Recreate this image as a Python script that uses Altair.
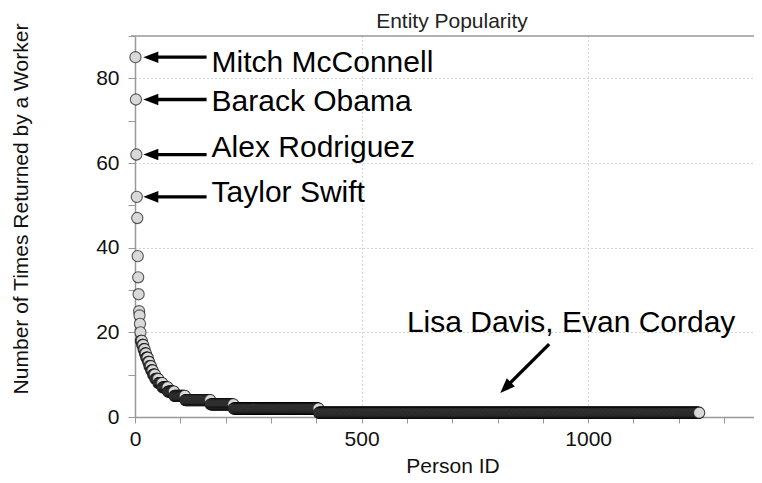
import altair as alt
import pandas as pd

# ---- data ----
top_counts = [85, 75, 62, 52, 47, 38, 33, 29, 25, 24, 22, 20]
run_values = [18, 17, 16, 15, 14, 13, 12, 11, 10, 9, 8, 7, 6, 5, 4, 3, 2, 1]
run_lengths = [3, 3, 3, 3, 4, 3, 4, 4, 5, 7, 9, 12, 14, 24, 56, 51, 188, 840]

ann_names = ["Mitch McConnell", "Barack Obama", "Alex Rodriguez", "Taylor Swift"]
ann_values = [85, 75, 62, 52]
ann_text_y = [81.5, 72.4, 61.4, 50.8]

tail_name = ["Lisa Davis, Evan Corday"]
chart_title = ["Entity Popularity"]

x_ticks = list(range(0, 1400, 100))
y_ticks = list(range(0, 100, 10))

# ---- build tables ----
counts = top_counts + [v for v, n in zip(run_values, run_lengths) for _ in range(n)]
df = pd.DataFrame({"pid": list(range(1, len(counts) + 1)), "count": counts})

FONT = "Liberation Sans"
W, H = 619, 381
XMAX = 1366

xs = alt.Scale(domain=[0, XMAX], nice=False, zero=False)
ys = alt.Scale(domain=[0, 90], nice=False)

x_axis = alt.Axis(
    values=x_ticks, format="d",
    labelExpr="datum.value % 500 === 0 ? datum.label : ''",
    title="Person ID", titleFont=FONT, titleFontSize=21, titleFontWeight="normal",
    titleColor="#111", titleX=317.5, titleY=55, titleBaseline="alphabetic",
    labelFont=FONT, labelFontSize=21, labelColor="#111", labelPadding=5,
    labelFlush=False, labelOverlap=False,
    tickSize=6, tickColor="#999", tickWidth=1,
    domainColor="#999", domainWidth=1.5,
    grid=True, gridDash=[1, 3], gridColor="#aaa",
    gridOpacity={"condition": {"test": "datum.value % 500 === 0 && datum.value > 0", "value": 1}, "value": 0},
)
y_axis = alt.Axis(
    values=y_ticks, format="d",
    labelExpr="datum.value % 20 === 0 ? datum.label : ''",
    title="Number of Times Returned by a Worker", titleFont=FONT, titleFontSize=21,
    titleFontWeight="normal", titleColor="#111", titleX=-108, titleY=172.5,
    titleBaseline="alphabetic",
    labelFont=FONT, labelFontSize=21, labelColor="#111", labelPadding=9,
    labelOverlap=False,
    tickSize=7, tickColor="#999", tickWidth=1,
    domainColor="#999", domainWidth=1.5,
    grid=True, gridDash=[1, 3], gridColor="#aaa",
    gridOpacity={"condition": {"test": "datum.value % 20 === 0 && datum.value > 0", "value": 1}, "value": 0},
)

points = alt.Chart(df).mark_circle(
    size=125, fill="#d9d9d9", fillOpacity=1, stroke="black", strokeOpacity=0.62,
    strokeWidth=1.15
).encode(
    x=alt.X("pid:Q", scale=xs, axis=x_axis),
    y=alt.Y("count:Q", scale=ys, axis=y_axis),
)

# arrows
tip_x, tail_x, shaft_start = 18.4, 158, 40
arrow_df = pd.DataFrame({
    "pid": [shaft_start] * 4 + [914],
    "pid2": [tail_x] * 4 + [818],
    "count": ann_values + [17.2],
    "count2": ann_values + [7.0],
})
shafts = alt.Chart(arrow_df).mark_rule(color="black", strokeWidth=3.3, strokeCap="butt").encode(
    x=alt.X("pid:Q", scale=xs), x2="pid2:Q",
    y=alt.Y("count:Q", scale=ys), y2="count2:Q",
)

head_df = pd.DataFrame({
    "pid": [tip_x] * 4 + [806],
    "count": ann_values + [5.66],
    "ang": [0, 0, 0, 0, 315],
})
heads = alt.Chart(head_df).mark_point(
    shape="M0,0L2,-0.77L2,0.77Z", size=225, filled=True, fill="black",
    strokeWidth=0, opacity=1
).encode(
    x=alt.X("pid:Q", scale=xs), y=alt.Y("count:Q", scale=ys),
    angle=alt.Angle("ang:Q", scale=None),
)

text_df = pd.DataFrame({
    "pid": [169] * 4 + [600],
    "count": ann_text_y + [20.06],
    "label": ann_names + tail_name,
})
texts = alt.Chart(text_df).mark_text(
    align="left", baseline="alphabetic", font=FONT, fontSize=30, color="black"
).encode(
    x=alt.X("pid:Q", scale=xs), y=alt.Y("count:Q", scale=ys), text="label:N"
)

title_mark = alt.Chart(pd.DataFrame({"t": chart_title})).mark_text(
    align="center", baseline="alphabetic", font=FONT, fontSize=21, color="#222"
).encode(x=alt.value(317), y=alt.value(-8), text="t:N")

top_line = alt.Chart(pd.DataFrame({"a": [0]})).mark_rule(color="#999", strokeWidth=1.5).encode(
    x=alt.value(-4), x2=alt.value(W), y=alt.value(0)
)

chart = alt.layer(points, shafts, heads, texts, top_line, title_mark).properties(
    width=W, height=H,
    autosize=alt.AutoSizeParams(type="none"),
    padding={"left": 127, "top": 28, "right": 0, "bottom": 58},
).configure_view(stroke=None)

chart.save("out.html", embed_options={"renderer": "svg", "actions": False})
